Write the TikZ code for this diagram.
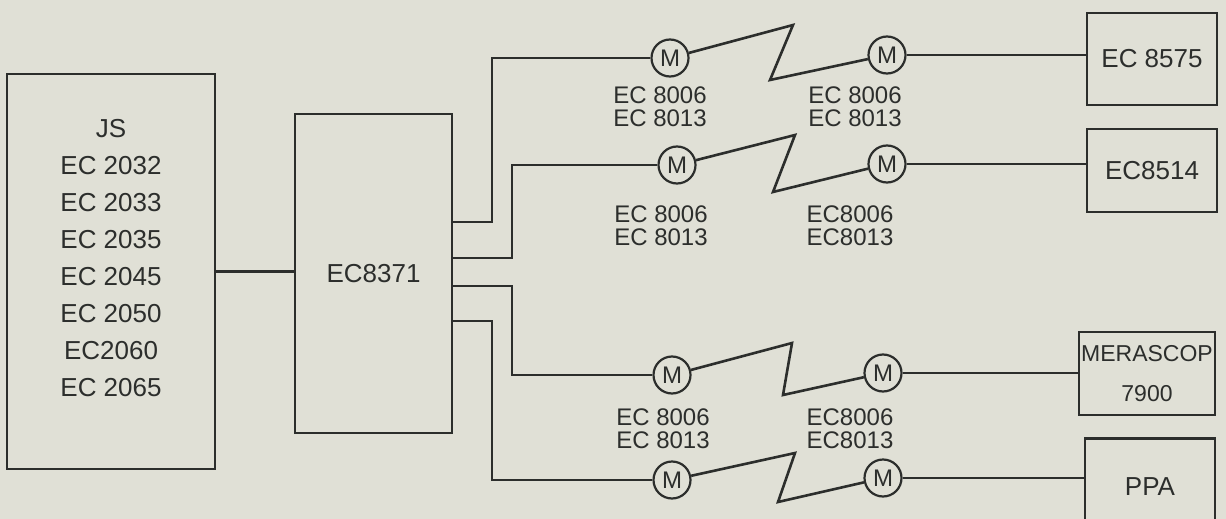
\documentclass[tikz,border=0pt]{standalone}
\usepackage{fontspec}
\setmainfont{Liberation Sans}
\usepackage{xcolor}
\usepackage{tikz}
\usetikzlibrary{positioning, calc}
\definecolor{paper}{RGB}{224,224,214}
\definecolor{ink}{RGB}{44,46,44}
\tikzset{linkplan/.style={
    unit/.style={rectangle, draw=ink, line width=2.6pt, inner sep=0pt, text=ink, align=center, font=\fontsize{26}{37}\selectfont},
    modem/.style={circle, draw=ink, line width=2.2pt, minimum size=37pt, inner sep=0pt, text=ink, font=\fontsize{24}{24}\selectfont},
    tag/.style={inner sep=0pt, text=ink, align=center, font=\fontsize{24}{23}\selectfont},
    wire/.style={draw=ink, line width=2.6pt, line join=miter},
}}

\begin{document}
\begin{tikzpicture}[linkplan, x=1pt, y=-1pt]
    \path[use as bounding box, fill=paper] (0,0) rectangle (1226,519);

    \node[unit, minimum width=208pt, minimum height=395pt] (js) at (111,271.5) {};
    \node[tag, font=\fontsize{26}{37}\selectfont] (jslist) at (111,258) {JS\\EC 2032\\EC 2033\\EC 2035\\EC 2045\\EC 2050\\EC2060\\EC 2065};
    \node[unit, minimum width=157pt, minimum height=319pt] (ec8371) at (373.5,273.5) {EC8371};

    \node[unit, minimum width=130pt, minimum height=92pt] (ec8575) at (1152,59) {EC 8575};
    \node[unit, minimum width=130pt, minimum height=83pt] (ec8514) at (1152,170.5) {EC8514};
    \node[unit, minimum width=136pt, minimum height=83pt, font=\fontsize{23}{40}\selectfont] (merascop) at (1147,373.5) {MERASCOP\\7900};
    \node[unit, minimum width=130pt, minimum height=96pt, anchor=north] (ppa) at (1150,437) {PPA};

    \node[modem] (m1l) at (670,58) {M};
    \node[modem] (m1r) at (887,55) {M};
    \node[modem] (m2l) at (677,165) {M};
    \node[modem] (m2r) at (887,164) {M};
    \node[modem] (m3l) at (672,375) {M};
    \node[modem] (m3r) at (883,373) {M};
    \node[modem] (m4l) at (672,480) {M};
    \node[modem] (m4r) at (883,478) {M};

    \node[tag] (t1l) at (660,106.5) {EC 8006\\EC 8013};
    \node[tag] (t1r) at (855,106.5) {EC 8006\\EC 8013};
    \node[tag] (t2l) at (661,225.5) {EC 8006\\EC 8013};
    \node[tag] (t2r) at (850,225.5) {EC8006\\EC8013};
    \node[tag] (t3l) at (663,428.5) {EC 8006\\EC 8013};
    \node[tag] (t3r) at (850,428.5) {EC8006\\EC8013};

    \coordinate (b1) at (492,222);
    \coordinate (b2) at (512,258);
    \coordinate (b3) at (512,286);
    \coordinate (b4) at (492,321);
    \coordinate (z1a) at (793,25);  \coordinate (z1b) at (770,80);
    \coordinate (z2a) at (795,135); \coordinate (z2b) at (773,192);
    \coordinate (z3a) at (792,343); \coordinate (z3b) at (783,395);
    \coordinate (z4a) at (795,453); \coordinate (z4b) at (778,502);

    \draw[wire] (js.east) -- (js.east -| ec8371.west);
    \draw[wire] (b1 -| ec8371.east) -- (b1) |- (m1l.west);
    \draw[wire] (b2 -| ec8371.east) -- (b2) |- (m2l.west);
    \draw[wire] (b3 -| ec8371.east) -- (b3) |- (m3l.west);
    \draw[wire] (b4 -| ec8371.east) -- (b4) |- (m4l.west);

    \foreach \r in {1,2,3,4}
        \draw[wire] (m\r l) -- (z\r a) -- (z\r b) -- (m\r r);

    \draw[wire] (m1r.east) -- (m1r.east -| ec8575.west);
    \draw[wire] (m2r.east) -- (m2r.east -| ec8514.west);
    \draw[wire] (m3r.east) -- (m3r.east -| merascop.west);
    \draw[wire] (m4r.east) -- (m4r.east -| ppa.west);
\end{tikzpicture}
\end{document}
